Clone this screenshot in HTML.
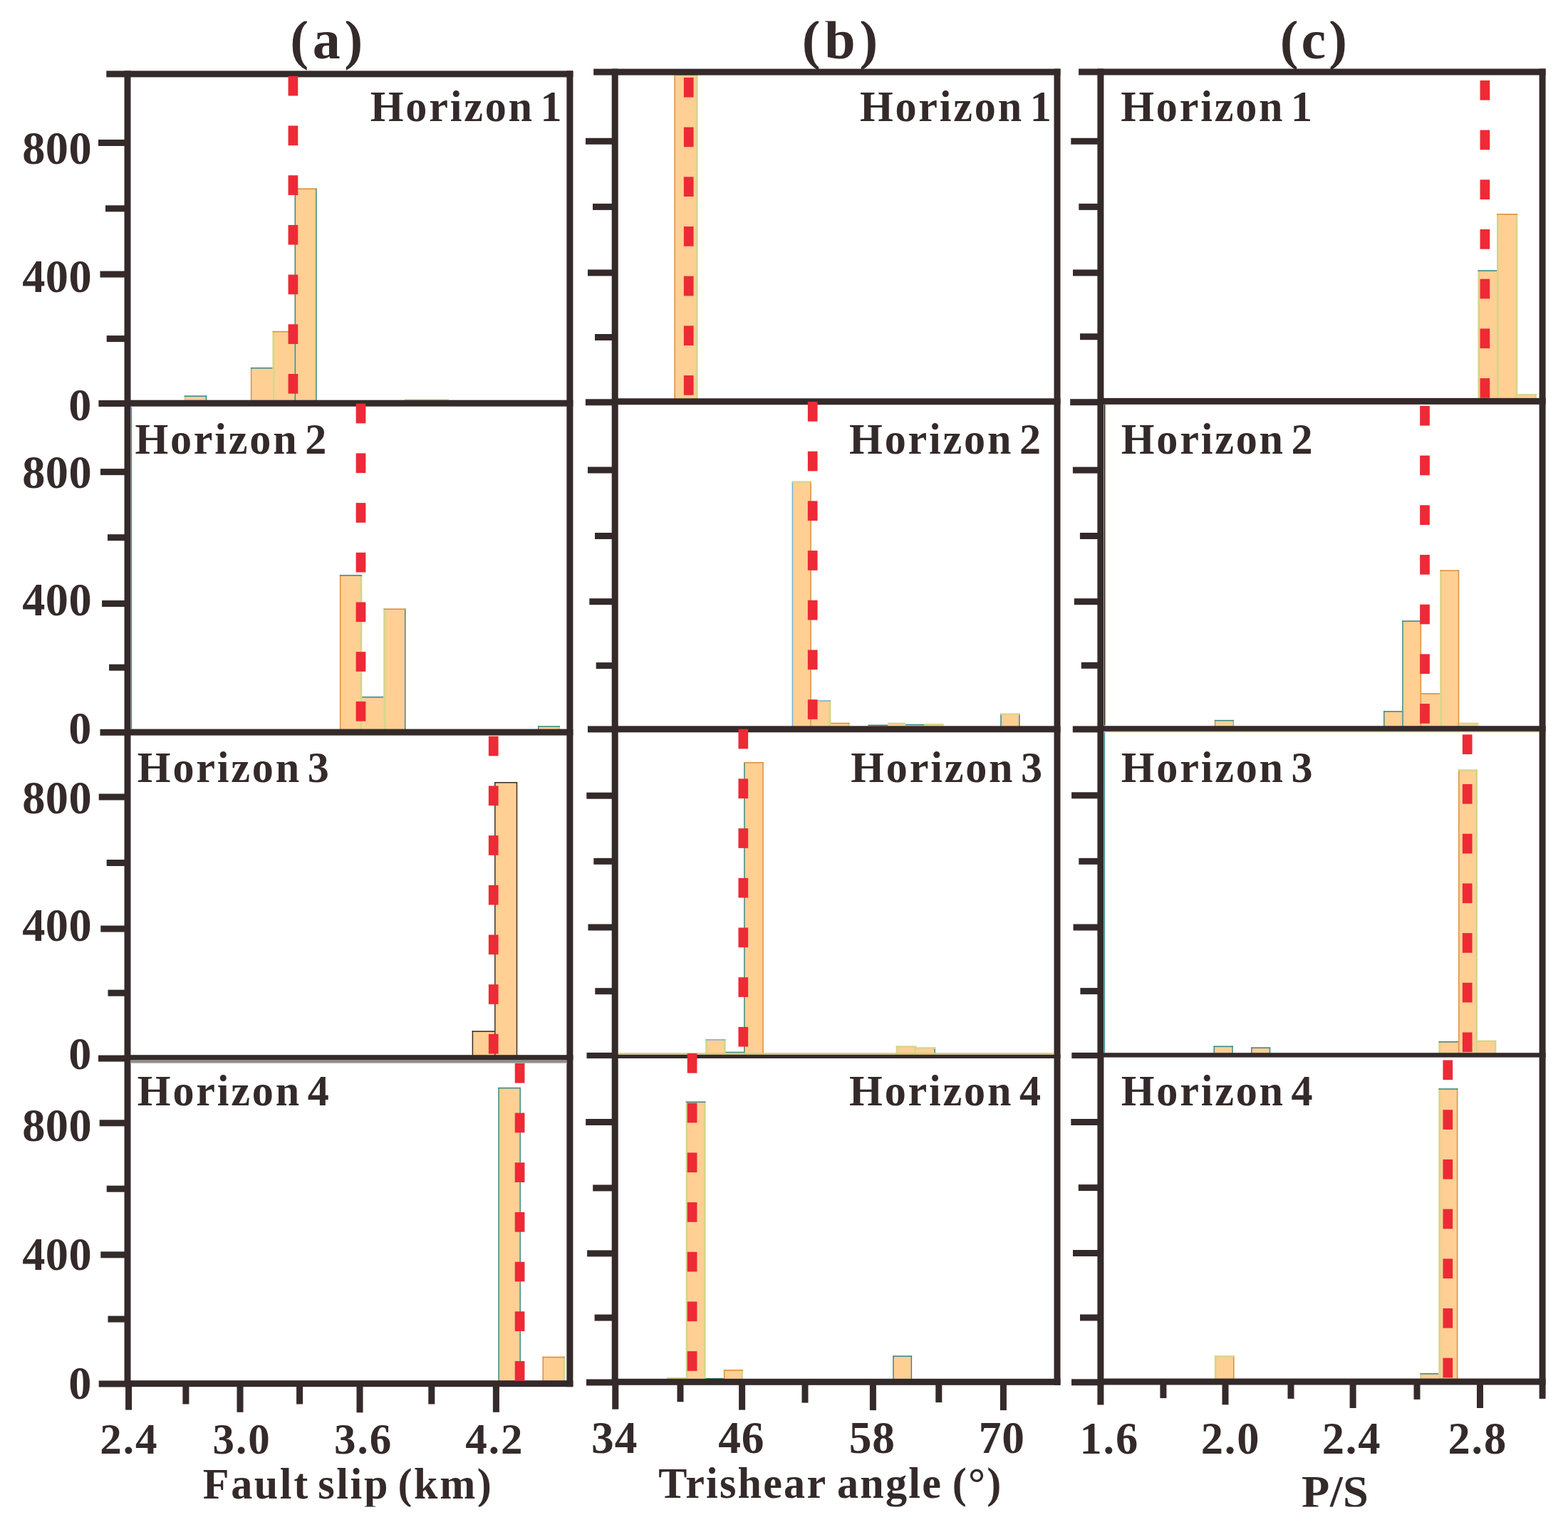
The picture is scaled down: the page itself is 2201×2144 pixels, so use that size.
<!DOCTYPE html>
<html lang="en"><head><meta charset="utf-8"><title>Histograms of fault slip, trishear angle and P/S</title>
<style>
html,body{margin:0;padding:0;background:#fff;}
body{width:2201px;height:2144px;overflow:hidden;}
svg{display:block;}
svg text{white-space:pre;font-family:"Liberation Serif",serif;font-weight:700;fill:#342a29;}
</style></head><body>
<svg width="2201" height="2144" viewBox="0 0 2201 2144" role="img" aria-label="Histograms of fault slip, trishear angle and P/S for Horizons 1 to 4">
<rect width="2201" height="2144" fill="#fff"/>
<g id="bars">
<rect x="258.70" y="555.50" width="31.50" height="11.30" fill="#ffcf94"/>
<rect x="258.70" y="555.50" width="2.6" height="11.30" fill="#d3d68a"/>
<rect x="288.80" y="555.50" width="1.4" height="11.30" fill="#2f8a8c"/>
<rect x="258.70" y="555.50" width="31.50" height="1.5" fill="#2f8a8c"/>
<rect x="351.90" y="516.00" width="30.70" height="50.80" fill="#ffcf94"/>
<rect x="351.90" y="516.00" width="1.4" height="50.80" fill="#d9903a"/>
<rect x="351.90" y="516.00" width="30.70" height="1.5" fill="#2f8a8c"/>
<rect x="382.60" y="464.90" width="31.00" height="101.90" fill="#ffcf94"/>
<rect x="382.60" y="464.90" width="2.6" height="101.90" fill="#d3d68a"/>
<rect x="382.60" y="464.90" width="31.00" height="1.5" fill="#d9903a"/>
<rect x="413.60" y="264.50" width="31.00" height="302.30" fill="#ffcf94"/>
<rect x="413.60" y="264.50" width="1.4" height="302.30" fill="#2f8a8c"/>
<rect x="443.20" y="264.50" width="1.4" height="302.30" fill="#2f8a8c"/>
<rect x="413.60" y="264.50" width="31.00" height="1.5" fill="#d9903a"/>
<rect x="568.00" y="560.60" width="61.80" height="6.20" fill="#ffcf94"/>
<rect x="568.00" y="560.60" width="61.80" height="2.2" fill="#d3d68a"/>
<rect x="476.90" y="807.20" width="31.30" height="221.30" fill="#ffcf94"/>
<rect x="476.90" y="807.20" width="1.4" height="221.30" fill="#d9903a"/>
<rect x="505.60" y="807.20" width="2.6" height="221.30" fill="#d3d68a"/>
<rect x="476.90" y="807.20" width="31.30" height="1.5" fill="#2f8a8c"/>
<rect x="508.20" y="978.00" width="30.20" height="50.50" fill="#ffcf94"/>
<rect x="508.20" y="978.00" width="30.20" height="1.5" fill="#2f8a8c"/>
<rect x="538.40" y="854.50" width="31.00" height="174.00" fill="#ffcf94"/>
<rect x="538.40" y="854.50" width="2.6" height="174.00" fill="#d3d68a"/>
<rect x="568.00" y="854.50" width="1.4" height="174.00" fill="#2f8a8c"/>
<rect x="538.40" y="854.50" width="31.00" height="1.5" fill="#d9903a"/>
<rect x="755.00" y="1019.30" width="31.00" height="9.20" fill="#ffcf94"/>
<rect x="755.00" y="1019.30" width="1.4" height="9.20" fill="#2f8a8c"/>
<rect x="783.40" y="1019.30" width="2.6" height="9.20" fill="#d3d68a"/>
<rect x="755.00" y="1019.30" width="31.00" height="1.5" fill="#2f8a8c"/>
<rect x="662.70" y="1447.40" width="31.40" height="38.80" fill="#ffcf94"/>
<rect x="662.70" y="1447.40" width="1.4" height="38.80" fill="#342a29"/>
<rect x="662.70" y="1447.40" width="31.40" height="1.5" fill="#342a29"/>
<rect x="694.10" y="1098.00" width="32.10" height="388.20" fill="#ffcf94"/>
<rect x="694.10" y="1098.00" width="1.4" height="388.20" fill="#342a29"/>
<rect x="724.80" y="1098.00" width="1.4" height="388.20" fill="#342a29"/>
<rect x="694.10" y="1098.00" width="32.10" height="1.5" fill="#342a29"/>
<rect x="699.40" y="1526.90" width="31.50" height="416.50" fill="#ffcf94"/>
<rect x="699.40" y="1526.90" width="1.4" height="416.50" fill="#2f8a8c"/>
<rect x="729.50" y="1526.90" width="1.4" height="416.50" fill="#2f8a8c"/>
<rect x="699.40" y="1526.90" width="31.50" height="1.5" fill="#2f8a8c"/>
<rect x="761.60" y="1904.80" width="31.50" height="38.60" fill="#ffcf94"/>
<rect x="761.60" y="1904.80" width="1.4" height="38.60" fill="#d9903a"/>
<rect x="790.50" y="1904.80" width="2.6" height="38.60" fill="#d3d68a"/>
<rect x="761.60" y="1904.80" width="31.50" height="1.5" fill="#d9903a"/>
<rect x="946.50" y="104.00" width="32.90" height="459.70" fill="#ffcf94"/>
<rect x="946.50" y="104.00" width="1.4" height="459.70" fill="#d9903a"/>
<rect x="976.80" y="104.00" width="2.6" height="459.70" fill="#d3d68a"/>
<rect x="946.50" y="104.00" width="32.90" height="1.5" fill="#d9903a"/>
<rect x="1111.70" y="675.70" width="27.10" height="348.40" fill="#ffcf94"/>
<rect x="1111.70" y="675.70" width="1.4" height="348.40" fill="#6fb3dc"/>
<rect x="1137.40" y="675.70" width="1.4" height="348.40" fill="#d9903a"/>
<rect x="1111.70" y="675.70" width="27.10" height="2.2" fill="#d3d68a"/>
<rect x="1138.80" y="983.30" width="27.50" height="40.80" fill="#ffcf94"/>
<rect x="1163.70" y="983.30" width="2.6" height="40.80" fill="#d3d68a"/>
<rect x="1138.80" y="983.30" width="27.50" height="1.5" fill="#6fb3dc"/>
<rect x="1166.30" y="1014.80" width="26.30" height="9.30" fill="#ffcf94"/>
<rect x="1190.00" y="1014.80" width="2.6" height="9.30" fill="#d3d68a"/>
<rect x="1166.30" y="1014.80" width="26.30" height="1.5" fill="#d9903a"/>
<rect x="1218.40" y="1017.60" width="27.60" height="6.50" fill="#ffcf94"/>
<rect x="1218.40" y="1017.60" width="27.60" height="1.5" fill="#2f8a8c"/>
<rect x="1246.00" y="1014.80" width="24.90" height="9.30" fill="#ffcf94"/>
<rect x="1246.00" y="1014.80" width="24.90" height="2.2" fill="#d3d68a"/>
<rect x="1270.90" y="1016.80" width="26.80" height="7.30" fill="#ffcf94"/>
<rect x="1270.90" y="1016.80" width="26.80" height="1.5" fill="#2f8a8c"/>
<rect x="1297.70" y="1016.00" width="27.00" height="8.10" fill="#ffcf94"/>
<rect x="1297.70" y="1016.00" width="27.00" height="2.2" fill="#d3d68a"/>
<rect x="1404.30" y="1001.70" width="27.30" height="22.40" fill="#ffcf94"/>
<rect x="1404.30" y="1001.70" width="1.4" height="22.40" fill="#2f8a8c"/>
<rect x="1430.20" y="1001.70" width="1.4" height="22.40" fill="#2f8a8c"/>
<rect x="1404.30" y="1001.70" width="27.30" height="2.2" fill="#d3d68a"/>
<rect x="990.40" y="1459.20" width="28.10" height="23.50" fill="#ffcf94"/>
<rect x="990.40" y="1459.20" width="2.6" height="23.50" fill="#d3d68a"/>
<rect x="1015.90" y="1459.20" width="2.6" height="23.50" fill="#d3d68a"/>
<rect x="990.40" y="1459.20" width="28.10" height="1.5" fill="#6fb3dc"/>
<rect x="1018.50" y="1476.80" width="25.70" height="5.90" fill="#ffcf94"/>
<rect x="1018.50" y="1476.80" width="25.70" height="1.5" fill="#2f8a8c"/>
<rect x="1044.20" y="1070.00" width="27.60" height="412.70" fill="#ffcf94"/>
<rect x="1044.20" y="1070.00" width="1.4" height="412.70" fill="#2f8a8c"/>
<rect x="1070.40" y="1070.00" width="1.4" height="412.70" fill="#d9903a"/>
<rect x="1044.20" y="1070.00" width="27.60" height="1.5" fill="#d9903a"/>
<rect x="1257.80" y="1468.60" width="28.30" height="14.10" fill="#ffcf94"/>
<rect x="1257.80" y="1468.60" width="2.6" height="14.10" fill="#d3d68a"/>
<rect x="1283.50" y="1468.60" width="2.6" height="14.10" fill="#d3d68a"/>
<rect x="1257.80" y="1468.60" width="28.30" height="2.2" fill="#d3d68a"/>
<rect x="1286.10" y="1470.50" width="26.80" height="12.20" fill="#ffcf94"/>
<rect x="1311.50" y="1470.50" width="1.4" height="12.20" fill="#2f8a8c"/>
<rect x="1286.10" y="1470.50" width="26.80" height="2.2" fill="#d3d68a"/>
<rect x="936.00" y="1934.00" width="26.80" height="6.40" fill="#ffcf94"/>
<rect x="936.00" y="1934.00" width="26.80" height="2.2" fill="#d3d68a"/>
<rect x="962.80" y="1546.60" width="27.60" height="393.80" fill="#ffcf94"/>
<rect x="962.80" y="1546.60" width="2.6" height="393.80" fill="#d3d68a"/>
<rect x="987.80" y="1546.60" width="2.6" height="393.80" fill="#d3d68a"/>
<rect x="962.80" y="1546.60" width="27.60" height="1.5" fill="#2f8a8c"/>
<rect x="990.40" y="1934.90" width="25.50" height="5.50" fill="#ffcf94"/>
<rect x="990.40" y="1934.90" width="25.50" height="1.5" fill="#2f8a8c"/>
<rect x="1015.90" y="1923.10" width="27.00" height="17.30" fill="#ffcf94"/>
<rect x="1015.90" y="1923.10" width="1.4" height="17.30" fill="#d9903a"/>
<rect x="1040.30" y="1923.10" width="2.6" height="17.30" fill="#d3d68a"/>
<rect x="1015.90" y="1923.10" width="27.00" height="1.5" fill="#d9903a"/>
<rect x="1253.30" y="1903.50" width="26.80" height="36.90" fill="#ffcf94"/>
<rect x="1253.30" y="1903.50" width="1.4" height="36.90" fill="#2f8a8c"/>
<rect x="1278.70" y="1903.50" width="1.4" height="36.90" fill="#2f8a8c"/>
<rect x="1253.30" y="1903.50" width="26.80" height="1.5" fill="#2f8a8c"/>
<rect x="2074.60" y="379.40" width="26.40" height="184.10" fill="#ffcf94"/>
<rect x="2074.60" y="379.40" width="2.6" height="184.10" fill="#d3d68a"/>
<rect x="2074.60" y="379.40" width="26.40" height="1.5" fill="#2f8a8c"/>
<rect x="2101.00" y="300.10" width="29.20" height="263.40" fill="#ffcf94"/>
<rect x="2101.00" y="300.10" width="2.6" height="263.40" fill="#d3d68a"/>
<rect x="2127.60" y="300.10" width="2.6" height="263.40" fill="#d3d68a"/>
<rect x="2101.00" y="300.10" width="29.20" height="1.5" fill="#d9903a"/>
<rect x="2130.20" y="553.30" width="26.60" height="10.20" fill="#ffcf94"/>
<rect x="2154.20" y="553.30" width="2.6" height="10.20" fill="#d3d68a"/>
<rect x="2130.20" y="553.30" width="26.60" height="2.2" fill="#d3d68a"/>
<rect x="1704.90" y="1010.90" width="27.10" height="12.30" fill="#ffcf94"/>
<rect x="1704.90" y="1010.90" width="1.4" height="12.30" fill="#d9903a"/>
<rect x="1730.60" y="1010.90" width="1.4" height="12.30" fill="#6fb3dc"/>
<rect x="1704.90" y="1010.90" width="27.10" height="1.5" fill="#2f8a8c"/>
<rect x="1942.10" y="998.30" width="26.20" height="24.90" fill="#ffcf94"/>
<rect x="1942.10" y="998.30" width="1.4" height="24.90" fill="#2f8a8c"/>
<rect x="1942.10" y="998.30" width="26.20" height="1.5" fill="#2f8a8c"/>
<rect x="1968.30" y="871.40" width="26.80" height="151.80" fill="#ffcf94"/>
<rect x="1968.30" y="871.40" width="1.4" height="151.80" fill="#2f8a8c"/>
<rect x="1993.70" y="871.40" width="1.4" height="151.80" fill="#d9903a"/>
<rect x="1968.30" y="871.40" width="26.80" height="1.5" fill="#2f8a8c"/>
<rect x="1995.10" y="973.30" width="26.30" height="49.90" fill="#ffcf94"/>
<rect x="1995.10" y="973.30" width="26.30" height="1.5" fill="#d9903a"/>
<rect x="2021.40" y="800.50" width="26.80" height="222.70" fill="#ffcf94"/>
<rect x="2021.40" y="800.50" width="2.6" height="222.70" fill="#d3d68a"/>
<rect x="2046.80" y="800.50" width="1.4" height="222.70" fill="#d9903a"/>
<rect x="2021.40" y="800.50" width="26.80" height="1.5" fill="#d9903a"/>
<rect x="2048.20" y="1014.80" width="27.00" height="8.40" fill="#ffcf94"/>
<rect x="2048.20" y="1014.80" width="27.00" height="2.2" fill="#d3d68a"/>
<rect x="1703.60" y="1468.60" width="27.10" height="13.10" fill="#ffcf94"/>
<rect x="1703.60" y="1468.60" width="1.4" height="13.10" fill="#2f8a8c"/>
<rect x="1729.30" y="1468.60" width="1.4" height="13.10" fill="#2f8a8c"/>
<rect x="1703.60" y="1468.60" width="27.10" height="1.5" fill="#2f8a8c"/>
<rect x="1756.10" y="1470.50" width="27.10" height="11.20" fill="#ffcf94"/>
<rect x="1756.10" y="1470.50" width="1.4" height="11.20" fill="#2f8a8c"/>
<rect x="1781.80" y="1470.50" width="1.4" height="11.20" fill="#2f8a8c"/>
<rect x="1756.10" y="1470.50" width="27.10" height="1.5" fill="#2f8a8c"/>
<rect x="2019.50" y="1462.10" width="27.60" height="19.60" fill="#ffcf94"/>
<rect x="2019.50" y="1462.10" width="2.6" height="19.60" fill="#d3d68a"/>
<rect x="2019.50" y="1462.10" width="27.60" height="1.5" fill="#2f8a8c"/>
<rect x="2047.10" y="1080.50" width="26.80" height="401.20" fill="#ffcf94"/>
<rect x="2047.10" y="1080.50" width="1.4" height="401.20" fill="#d9903a"/>
<rect x="2071.30" y="1080.50" width="2.6" height="401.20" fill="#d3d68a"/>
<rect x="2047.10" y="1080.50" width="26.80" height="2.2" fill="#d3d68a"/>
<rect x="2073.90" y="1460.80" width="26.30" height="20.90" fill="#ffcf94"/>
<rect x="2097.60" y="1460.80" width="2.6" height="20.90" fill="#d3d68a"/>
<rect x="2073.90" y="1460.80" width="26.30" height="2.2" fill="#d3d68a"/>
<rect x="1704.90" y="1903.50" width="27.60" height="36.30" fill="#ffcf94"/>
<rect x="1704.90" y="1903.50" width="2.6" height="36.30" fill="#d3d68a"/>
<rect x="1731.10" y="1903.50" width="1.4" height="36.30" fill="#d9903a"/>
<rect x="1704.90" y="1903.50" width="27.60" height="2.2" fill="#d3d68a"/>
<rect x="1993.30" y="1928.10" width="26.20" height="11.70" fill="#ffcf94"/>
<rect x="1993.30" y="1928.10" width="2.6" height="11.70" fill="#d3d68a"/>
<rect x="1993.30" y="1928.10" width="26.20" height="1.5" fill="#2f8a8c"/>
<rect x="2019.50" y="1528.30" width="26.80" height="411.50" fill="#ffcf94"/>
<rect x="2019.50" y="1528.30" width="2.6" height="411.50" fill="#d3d68a"/>
<rect x="2044.90" y="1528.30" width="1.4" height="411.50" fill="#d9903a"/>
<rect x="2019.50" y="1528.30" width="26.80" height="1.5" fill="#2f8a8c"/>
</g>
<g id="axes">
<rect x="179.00" y="561.70" width="625.40" height="9.00" fill="#342a29"/>
<rect x="179.00" y="1023.60" width="625.40" height="9.00" fill="#342a29"/>
<rect x="179.00" y="1481.20" width="625.40" height="7.40" fill="#342a29"/>
<rect x="179.00" y="1938.20" width="625.40" height="9.00" fill="#342a29"/>
<rect x="149.30" y="99.40" width="655.10" height="9.00" fill="#342a29"/>
<rect x="174.50" y="99.40" width="9.00" height="1847.80" fill="#342a29"/>
<rect x="795.40" y="99.40" width="9.00" height="1847.80" fill="#342a29"/>
<rect x="138.00" y="196.00" width="41.00" height="9.00" fill="#342a29"/>
<rect x="148.00" y="288.30" width="31.00" height="9.00" fill="#342a29"/>
<rect x="140.50" y="380.60" width="38.50" height="9.00" fill="#342a29"/>
<rect x="149.70" y="471.10" width="29.30" height="9.00" fill="#342a29"/>
<rect x="138.40" y="562.00" width="40.60" height="9.00" fill="#342a29"/>
<rect x="141.00" y="658.10" width="38.00" height="9.00" fill="#342a29"/>
<rect x="151.00" y="750.20" width="28.00" height="9.00" fill="#342a29"/>
<rect x="143.10" y="843.00" width="35.90" height="9.00" fill="#342a29"/>
<rect x="153.10" y="932.70" width="25.90" height="9.00" fill="#342a29"/>
<rect x="140.50" y="1023.80" width="38.50" height="9.00" fill="#342a29"/>
<rect x="138.70" y="1114.50" width="40.30" height="9.00" fill="#342a29"/>
<rect x="149.70" y="1207.00" width="29.30" height="9.00" fill="#342a29"/>
<rect x="141.30" y="1299.60" width="37.70" height="9.00" fill="#342a29"/>
<rect x="151.50" y="1389.70" width="27.50" height="9.00" fill="#342a29"/>
<rect x="138.00" y="1481.60" width="41.00" height="9.00" fill="#342a29"/>
<rect x="139.70" y="1572.30" width="39.30" height="9.00" fill="#342a29"/>
<rect x="149.70" y="1664.70" width="29.30" height="9.00" fill="#342a29"/>
<rect x="141.30" y="1757.30" width="37.70" height="9.00" fill="#342a29"/>
<rect x="151.50" y="1847.60" width="27.50" height="9.00" fill="#342a29"/>
<rect x="138.70" y="1938.50" width="40.30" height="9.00" fill="#342a29"/>
<rect x="176.10" y="1942.70" width="9.00" height="36.90" fill="#342a29"/>
<rect x="256.40" y="1942.70" width="9.00" height="28.80" fill="#342a29"/>
<rect x="332.50" y="1942.70" width="9.00" height="40.10" fill="#342a29"/>
<rect x="416.10" y="1942.70" width="9.00" height="28.80" fill="#342a29"/>
<rect x="500.50" y="1942.70" width="9.00" height="40.60" fill="#342a29"/>
<rect x="601.30" y="1942.70" width="9.00" height="28.80" fill="#342a29"/>
<rect x="691.90" y="1942.70" width="9.00" height="40.10" fill="#342a29"/>
<rect x="863.20" y="559.30" width="625.30" height="9.00" fill="#342a29"/>
<rect x="863.20" y="1019.30" width="625.30" height="9.00" fill="#342a29"/>
<rect x="863.20" y="1480.60" width="625.30" height="5.40" fill="#342a29"/>
<rect x="863.20" y="1935.80" width="625.30" height="9.00" fill="#342a29"/>
<rect x="833.20" y="96.60" width="655.30" height="9.00" fill="#342a29"/>
<rect x="858.70" y="96.60" width="9.00" height="1848.20" fill="#342a29"/>
<rect x="1479.50" y="96.60" width="9.00" height="1848.20" fill="#342a29"/>
<rect x="822.00" y="193.80" width="41.20" height="9.00" fill="#342a29"/>
<rect x="832.00" y="285.90" width="31.20" height="9.00" fill="#342a29"/>
<rect x="825.00" y="378.50" width="38.20" height="9.00" fill="#342a29"/>
<rect x="835.00" y="469.00" width="28.20" height="9.00" fill="#342a29"/>
<rect x="821.90" y="560.30" width="41.30" height="9.00" fill="#342a29"/>
<rect x="825.00" y="655.50" width="38.20" height="9.00" fill="#342a29"/>
<rect x="835.00" y="748.00" width="28.20" height="9.00" fill="#342a29"/>
<rect x="827.30" y="840.20" width="35.90" height="9.00" fill="#342a29"/>
<rect x="836.70" y="930.10" width="26.50" height="9.00" fill="#342a29"/>
<rect x="825.00" y="1019.40" width="38.20" height="9.00" fill="#342a29"/>
<rect x="823.30" y="1112.70" width="39.90" height="9.00" fill="#342a29"/>
<rect x="833.30" y="1204.80" width="29.90" height="9.00" fill="#342a29"/>
<rect x="825.50" y="1297.50" width="37.70" height="9.00" fill="#342a29"/>
<rect x="835.30" y="1387.20" width="27.90" height="9.00" fill="#342a29"/>
<rect x="823.50" y="1477.90" width="39.70" height="8.20" fill="#342a29"/>
<rect x="822.20" y="1571.00" width="41.00" height="9.00" fill="#342a29"/>
<rect x="832.20" y="1663.50" width="31.00" height="9.00" fill="#342a29"/>
<rect x="824.10" y="1755.40" width="39.10" height="9.00" fill="#342a29"/>
<rect x="834.60" y="1845.60" width="28.60" height="9.00" fill="#342a29"/>
<rect x="823.00" y="1936.50" width="40.20" height="9.00" fill="#342a29"/>
<rect x="859.30" y="1940.30" width="9.00" height="38.40" fill="#342a29"/>
<rect x="950.50" y="1940.30" width="9.00" height="28.00" fill="#342a29"/>
<rect x="1037.10" y="1940.30" width="9.00" height="39.30" fill="#342a29"/>
<rect x="1125.50" y="1940.30" width="9.00" height="29.30" fill="#342a29"/>
<rect x="1220.90" y="1940.30" width="9.00" height="39.80" fill="#342a29"/>
<rect x="1313.30" y="1940.30" width="9.00" height="28.80" fill="#342a29"/>
<rect x="1403.90" y="1940.30" width="9.00" height="39.80" fill="#342a29"/>
<rect x="1544.90" y="558.90" width="624.70" height="9.00" fill="#342a29"/>
<rect x="1544.90" y="1019.20" width="624.70" height="7.70" fill="#342a29"/>
<rect x="1544.90" y="1478.20" width="624.70" height="6.40" fill="#342a29"/>
<rect x="1544.90" y="1935.50" width="624.70" height="9.00" fill="#342a29"/>
<rect x="1514.10" y="96.50" width="655.50" height="9.00" fill="#342a29"/>
<rect x="1540.40" y="96.50" width="9.00" height="1848.00" fill="#342a29"/>
<rect x="2160.60" y="96.50" width="9.00" height="1867.40" fill="#342a29"/>
<rect x="1503.30" y="193.80" width="41.60" height="9.00" fill="#342a29"/>
<rect x="1514.30" y="285.90" width="30.60" height="9.00" fill="#342a29"/>
<rect x="1506.00" y="378.50" width="38.90" height="9.00" fill="#342a29"/>
<rect x="1516.00" y="468.20" width="28.90" height="9.00" fill="#342a29"/>
<rect x="1502.20" y="560.20" width="42.70" height="9.00" fill="#342a29"/>
<rect x="1505.90" y="655.60" width="39.00" height="9.00" fill="#342a29"/>
<rect x="1515.90" y="748.00" width="29.00" height="9.00" fill="#342a29"/>
<rect x="1507.80" y="840.20" width="37.10" height="9.00" fill="#342a29"/>
<rect x="1517.80" y="929.80" width="27.10" height="9.00" fill="#342a29"/>
<rect x="1505.80" y="1019.40" width="39.10" height="9.00" fill="#342a29"/>
<rect x="1504.10" y="1112.30" width="40.80" height="9.00" fill="#342a29"/>
<rect x="1514.30" y="1204.80" width="30.60" height="9.00" fill="#342a29"/>
<rect x="1506.50" y="1297.50" width="38.40" height="9.00" fill="#342a29"/>
<rect x="1516.40" y="1387.10" width="28.50" height="9.00" fill="#342a29"/>
<rect x="1504.30" y="1477.90" width="40.60" height="8.20" fill="#342a29"/>
<rect x="1503.30" y="1571.00" width="41.60" height="9.00" fill="#342a29"/>
<rect x="1513.80" y="1663.10" width="31.10" height="9.00" fill="#342a29"/>
<rect x="1506.00" y="1755.00" width="38.90" height="9.00" fill="#342a29"/>
<rect x="1516.00" y="1845.50" width="28.90" height="9.00" fill="#342a29"/>
<rect x="1504.00" y="1936.30" width="40.90" height="9.00" fill="#342a29"/>
<rect x="1540.40" y="1940.00" width="9.00" height="32.50" fill="#342a29"/>
<rect x="1628.40" y="1940.00" width="9.00" height="23.10" fill="#342a29"/>
<rect x="1715.50" y="1940.00" width="9.00" height="32.30" fill="#342a29"/>
<rect x="1807.50" y="1940.00" width="9.00" height="23.90" fill="#342a29"/>
<rect x="1894.60" y="1940.00" width="9.00" height="37.00" fill="#342a29"/>
<rect x="1984.50" y="1940.00" width="9.00" height="24.90" fill="#342a29"/>
<rect x="2073.00" y="1940.00" width="9.00" height="37.00" fill="#342a29"/>
</g>
<rect x="183.9" y="571.5" width="1.3" height="452.3" fill="#2f9c9c"/>
<rect x="1550.0" y="568.2" width="1.5" height="450.3" fill="#1a1612"/>
<rect x="1551.5" y="568.2" width="0.9" height="450.3" fill="#e6e08c"/>
<rect x="1549.9" y="1027.9" width="1.2" height="450.6" fill="#2f8f93"/>
<rect x="183.5" y="1488.5" width="611.9" height="4.2" fill="#8f8d8c"/>
<rect x="183.5" y="1492.7" width="611.9" height="1.1" fill="#f3f0cf"/>
<rect x="867.9" y="1478.2" width="611.4" height="2.4" fill="#d6cc7c"/>
<rect x="1549.6" y="1026.9" width="610.8" height="1.3" fill="#cfc486"/>
<g id="mean-lines">
<rect x="404.55" y="106.80" width="13.70" height="27.70" fill="#ed2a35"/>
<rect x="404.55" y="176.50" width="13.70" height="27.70" fill="#ed2a35"/>
<rect x="404.55" y="246.20" width="13.70" height="27.70" fill="#ed2a35"/>
<rect x="404.55" y="315.90" width="13.70" height="27.70" fill="#ed2a35"/>
<rect x="404.55" y="385.60" width="13.70" height="27.70" fill="#ed2a35"/>
<rect x="404.55" y="455.30" width="13.70" height="27.70" fill="#ed2a35"/>
<rect x="404.55" y="525.00" width="13.70" height="27.70" fill="#ed2a35"/>
<rect x="499.65" y="566.70" width="13.70" height="27.70" fill="#ed2a35"/>
<rect x="499.65" y="636.40" width="13.70" height="27.70" fill="#ed2a35"/>
<rect x="499.65" y="706.10" width="13.70" height="27.70" fill="#ed2a35"/>
<rect x="499.65" y="775.80" width="13.70" height="27.70" fill="#ed2a35"/>
<rect x="499.65" y="845.50" width="13.70" height="27.70" fill="#ed2a35"/>
<rect x="499.65" y="915.20" width="13.70" height="27.70" fill="#ed2a35"/>
<rect x="499.65" y="984.90" width="13.70" height="27.70" fill="#ed2a35"/>
<rect x="685.85" y="1033.70" width="13.70" height="27.70" fill="#ed2a35"/>
<rect x="685.85" y="1103.40" width="13.70" height="27.70" fill="#ed2a35"/>
<rect x="685.85" y="1173.10" width="13.70" height="27.70" fill="#ed2a35"/>
<rect x="685.85" y="1242.80" width="13.70" height="27.70" fill="#ed2a35"/>
<rect x="685.85" y="1312.50" width="13.70" height="27.70" fill="#ed2a35"/>
<rect x="685.85" y="1382.20" width="13.70" height="27.70" fill="#ed2a35"/>
<rect x="685.85" y="1451.90" width="13.70" height="27.70" fill="#ed2a35"/>
<rect x="722.75" y="1492.90" width="13.70" height="27.70" fill="#ed2a35"/>
<rect x="722.75" y="1562.60" width="13.70" height="27.70" fill="#ed2a35"/>
<rect x="722.75" y="1632.30" width="13.70" height="27.70" fill="#ed2a35"/>
<rect x="722.75" y="1702.00" width="13.70" height="27.70" fill="#ed2a35"/>
<rect x="722.75" y="1771.70" width="13.70" height="27.70" fill="#ed2a35"/>
<rect x="722.75" y="1841.40" width="13.70" height="27.70" fill="#ed2a35"/>
<rect x="722.75" y="1911.10" width="13.70" height="27.70" fill="#ed2a35"/>
<rect x="959.85" y="108.90" width="13.70" height="27.70" fill="#ed2a35"/>
<rect x="959.85" y="178.60" width="13.70" height="27.70" fill="#ed2a35"/>
<rect x="959.85" y="248.30" width="13.70" height="27.70" fill="#ed2a35"/>
<rect x="959.85" y="318.00" width="13.70" height="27.70" fill="#ed2a35"/>
<rect x="959.85" y="387.70" width="13.70" height="27.70" fill="#ed2a35"/>
<rect x="959.85" y="457.40" width="13.70" height="27.70" fill="#ed2a35"/>
<rect x="959.85" y="527.10" width="13.70" height="27.70" fill="#ed2a35"/>
<rect x="1133.85" y="564.00" width="13.70" height="27.70" fill="#ed2a35"/>
<rect x="1133.85" y="633.70" width="13.70" height="27.70" fill="#ed2a35"/>
<rect x="1133.85" y="703.40" width="13.70" height="27.70" fill="#ed2a35"/>
<rect x="1133.85" y="773.10" width="13.70" height="27.70" fill="#ed2a35"/>
<rect x="1133.85" y="842.80" width="13.70" height="27.70" fill="#ed2a35"/>
<rect x="1133.85" y="912.50" width="13.70" height="27.70" fill="#ed2a35"/>
<rect x="1133.85" y="982.20" width="13.70" height="27.70" fill="#ed2a35"/>
<rect x="1036.45" y="1023.70" width="13.70" height="27.70" fill="#ed2a35"/>
<rect x="1036.45" y="1093.40" width="13.70" height="27.70" fill="#ed2a35"/>
<rect x="1036.45" y="1163.10" width="13.70" height="27.70" fill="#ed2a35"/>
<rect x="1036.45" y="1232.80" width="13.70" height="27.70" fill="#ed2a35"/>
<rect x="1036.45" y="1302.50" width="13.70" height="27.70" fill="#ed2a35"/>
<rect x="1036.45" y="1372.20" width="13.70" height="27.70" fill="#ed2a35"/>
<rect x="1036.45" y="1441.90" width="13.70" height="27.70" fill="#ed2a35"/>
<rect x="964.75" y="1479.00" width="13.70" height="27.70" fill="#ed2a35"/>
<rect x="964.75" y="1548.70" width="13.70" height="27.70" fill="#ed2a35"/>
<rect x="964.75" y="1618.40" width="13.70" height="27.70" fill="#ed2a35"/>
<rect x="964.75" y="1688.10" width="13.70" height="27.70" fill="#ed2a35"/>
<rect x="964.75" y="1757.80" width="13.70" height="27.70" fill="#ed2a35"/>
<rect x="964.75" y="1827.50" width="13.70" height="27.70" fill="#ed2a35"/>
<rect x="964.75" y="1897.20" width="13.70" height="27.70" fill="#ed2a35"/>
<rect x="2077.55" y="112.90" width="13.70" height="27.70" fill="#ed2a35"/>
<rect x="2077.55" y="182.60" width="13.70" height="27.70" fill="#ed2a35"/>
<rect x="2077.55" y="252.30" width="13.70" height="27.70" fill="#ed2a35"/>
<rect x="2077.55" y="322.00" width="13.70" height="27.70" fill="#ed2a35"/>
<rect x="2077.55" y="391.70" width="13.70" height="27.70" fill="#ed2a35"/>
<rect x="2077.55" y="461.40" width="13.70" height="27.70" fill="#ed2a35"/>
<rect x="2077.55" y="531.10" width="13.70" height="27.70" fill="#ed2a35"/>
<rect x="1993.15" y="569.90" width="13.70" height="27.70" fill="#ed2a35"/>
<rect x="1993.15" y="639.60" width="13.70" height="27.70" fill="#ed2a35"/>
<rect x="1993.15" y="709.30" width="13.70" height="27.70" fill="#ed2a35"/>
<rect x="1993.15" y="779.00" width="13.70" height="27.70" fill="#ed2a35"/>
<rect x="1993.15" y="848.70" width="13.70" height="27.70" fill="#ed2a35"/>
<rect x="1993.15" y="918.40" width="13.70" height="27.70" fill="#ed2a35"/>
<rect x="1993.15" y="988.10" width="13.70" height="27.70" fill="#ed2a35"/>
<rect x="2052.85" y="1031.30" width="13.70" height="27.70" fill="#ed2a35"/>
<rect x="2052.85" y="1101.00" width="13.70" height="27.70" fill="#ed2a35"/>
<rect x="2052.85" y="1170.70" width="13.70" height="27.70" fill="#ed2a35"/>
<rect x="2052.85" y="1240.40" width="13.70" height="27.70" fill="#ed2a35"/>
<rect x="2052.85" y="1310.10" width="13.70" height="27.70" fill="#ed2a35"/>
<rect x="2052.85" y="1379.80" width="13.70" height="27.70" fill="#ed2a35"/>
<rect x="2052.85" y="1449.50" width="13.70" height="27.70" fill="#ed2a35"/>
<rect x="2025.45" y="1488.50" width="13.70" height="27.70" fill="#ed2a35"/>
<rect x="2025.45" y="1558.20" width="13.70" height="27.70" fill="#ed2a35"/>
<rect x="2025.45" y="1627.90" width="13.70" height="27.70" fill="#ed2a35"/>
<rect x="2025.45" y="1697.60" width="13.70" height="27.70" fill="#ed2a35"/>
<rect x="2025.45" y="1767.30" width="13.70" height="27.70" fill="#ed2a35"/>
<rect x="2025.45" y="1837.00" width="13.70" height="27.70" fill="#ed2a35"/>
<rect x="2025.45" y="1906.70" width="13.70" height="27.70" fill="#ed2a35"/>
</g>
<g id="labels">
<text transform="translate(31.30 230.30) scale(0.975 1)" font-size="66" letter-spacing="0.4103">800</text>
<text transform="translate(31.30 409.60) scale(0.975 1)" font-size="66" letter-spacing="0.4103">400</text>
<text transform="translate(96.30 590.00) scale(1.02 1)" font-size="63">0</text>
<text transform="translate(31.30 684.50) scale(0.975 1)" font-size="66" letter-spacing="0.4103">800</text>
<text transform="translate(31.30 863.50) scale(0.975 1)" font-size="66" letter-spacing="0.4103">400</text>
<text transform="translate(96.30 1043.50) scale(1.02 1)" font-size="63">0</text>
<text transform="translate(31.30 1141.50) scale(0.975 1)" font-size="66" letter-spacing="0.4103">800</text>
<text transform="translate(31.30 1320.50) scale(0.975 1)" font-size="66" letter-spacing="0.4103">400</text>
<text transform="translate(96.30 1501.00) scale(1.02 1)" font-size="63">0</text>
<text transform="translate(31.30 1601.50) scale(0.975 1)" font-size="66" letter-spacing="0.4103">800</text>
<text transform="translate(31.30 1783.00) scale(0.975 1)" font-size="66" letter-spacing="0.4103">400</text>
<text transform="translate(96.30 1963.50) scale(0.975 1)" font-size="66" letter-spacing="0.4103">0</text>
<text transform="translate(140.20 2040.80)" font-size="61.0" letter-spacing="2.0000">2.4</text>
<text transform="translate(298.50 2040.80)" font-size="61.0" letter-spacing="2.0000">3.0</text>
<text transform="translate(469.00 2040.80)" font-size="61.0" letter-spacing="2.0000">3.6</text>
<text transform="translate(653.30 2040.80)" font-size="61.0" letter-spacing="2.0000">4.2</text>
<text transform="translate(830.10 2039.90)" font-size="63.4" letter-spacing="0.9000">34</text>
<text transform="translate(1008.20 2039.90)" font-size="63.4" letter-spacing="0.9000">46</text>
<text transform="translate(1191.70 2039.90)" font-size="63.4" letter-spacing="0.9000">58</text>
<text transform="translate(1373.70 2039.90)" font-size="63.4" letter-spacing="0.9000">70</text>
<text transform="translate(1515.50 2040.70)" font-size="62.5" letter-spacing="1.8500">1.6</text>
<text transform="translate(1685.70 2040.70)" font-size="62.5" letter-spacing="1.8500">2.0</text>
<text transform="translate(1855.70 2040.70)" font-size="62.5" letter-spacing="1.8500">2.4</text>
<text transform="translate(2032.40 2040.70)" font-size="62.5" letter-spacing="1.8500">2.8</text>
<text transform="translate(284.80 2103.80) scale(0.975 1)" font-size="61.7" letter-spacing="2.6667">Fault<tspan dx="-6.31"> slip</tspan><tspan dx="-6.31"> (km)</tspan></text>
<text transform="translate(924.30 2102.70) scale(0.975 1)" font-size="61.7" letter-spacing="2.2564">Trishear<tspan dx="-3.59"> angle</tspan><tspan dx="-3.59"> (°)</tspan></text>
<text transform="translate(1826.90 2116.00)" font-size="64.3" letter-spacing="0.5000">P/S</text>
<text transform="translate(407.30 82.00)" font-size="78" letter-spacing="5.5000">(a)</text>
<text transform="translate(1125.80 82.00)" font-size="78" letter-spacing="5.5000">(b)</text>
<text transform="translate(1796.70 82.00)" font-size="78" letter-spacing="3.8000">(c)</text>
<text transform="translate(519.70 169.90) scale(0.975 1)" font-size="61.7" letter-spacing="2.8718">Horizon<tspan dx="-9.33"> 1</tspan></text>
<text transform="translate(189.40 637.00) scale(0.975 1)" font-size="61.7" letter-spacing="2.8718">Horizon<tspan dx="-9.33"> 2</tspan></text>
<text transform="translate(192.80 1098.00) scale(0.975 1)" font-size="61.7" letter-spacing="2.8718">Horizon<tspan dx="-9.33"> 3</tspan></text>
<text transform="translate(192.80 1551.50) scale(0.975 1)" font-size="61.7" letter-spacing="2.8718">Horizon<tspan dx="-9.33"> 4</tspan></text>
<text transform="translate(1206.90 169.90) scale(0.975 1)" font-size="61.7" letter-spacing="2.8718">Horizon<tspan dx="-9.33"> 1</tspan></text>
<text transform="translate(1192.10 637.00) scale(0.975 1)" font-size="61.7" letter-spacing="2.8718">Horizon<tspan dx="-9.33"> 2</tspan></text>
<text transform="translate(1194.20 1098.00) scale(0.975 1)" font-size="61.7" letter-spacing="2.8718">Horizon<tspan dx="-9.33"> 3</tspan></text>
<text transform="translate(1192.10 1551.50) scale(0.975 1)" font-size="61.7" letter-spacing="2.8718">Horizon<tspan dx="-9.33"> 4</tspan></text>
<text transform="translate(1573.20 169.90) scale(0.975 1)" font-size="61.7" letter-spacing="2.8718">Horizon<tspan dx="-9.33"> 1</tspan></text>
<text transform="translate(1573.70 637.00) scale(0.975 1)" font-size="61.7" letter-spacing="2.8718">Horizon<tspan dx="-9.33"> 2</tspan></text>
<text transform="translate(1573.70 1098.00) scale(0.975 1)" font-size="61.7" letter-spacing="2.8718">Horizon<tspan dx="-9.33"> 3</tspan></text>
<text transform="translate(1573.70 1551.50) scale(0.975 1)" font-size="61.7" letter-spacing="2.8718">Horizon<tspan dx="-9.33"> 4</tspan></text>
</g>
<rect x="0" y="0" width="2201" height="29.6" fill="#fff"/>
<rect x="0" y="2115.6" width="2201" height="28.4" fill="#fff"/>
</svg>
</body></html>
